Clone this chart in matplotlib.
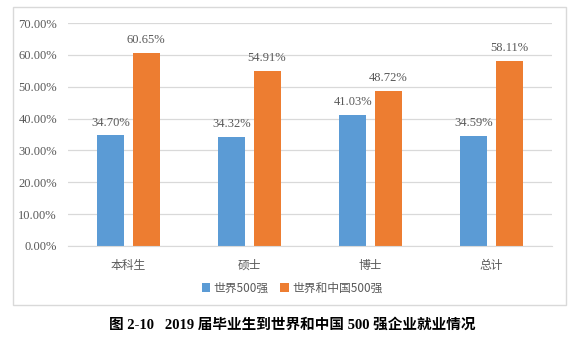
import matplotlib.pyplot as plt
import numpy as np
from matplotlib.patches import Rectangle
from matplotlib.ticker import FuncFormatter

categories = ["本科生", "硕士", "博士", "总计"]
world500 = [34.70, 34.32, 41.03, 34.59]
world_china500 = [60.65, 54.91, 48.72, 58.11]
series_names = ["世界500强", "世界和中国500强"]
caption = "图 2-10   2019 届毕业生到世界和中国 500 强企业就业情况"

plt.rcParams['font.family'] = ['Liberation Serif', 'Noto Sans CJK SC', 'DejaVu Sans']
W, H = 580, 352
fig = plt.figure(figsize=(5.8, 3.52), dpi=100)
# axes: x 68..552, y 23..246 (pixels)
ax = fig.add_axes([68 / W, 1 - 246 / H, (552 - 68) / W, (246 - 23) / H])

gray = "#595959"
blue = "#5B9BD5"
orange = "#ED7D31"
x = np.arange(len(categories))
bw = 0.223
off = 0.145
b1 = ax.bar(x - off, world500, bw, color=blue, label=series_names[0], zorder=2)
b2 = ax.bar(x + off, world_china500, bw, color=orange, label=series_names[1], zorder=2)

for bars, vals in ((b1, world500), (b2, world_china500)):
    for r, v in zip(bars, vals):
        ax.annotate(f"{v:.2f}%", (r.get_x() + r.get_width() / 2, v),
                    xytext=(0, 5), textcoords="offset points",
                    ha="center", va="bottom", fontsize=9, color=gray)

ax.set_xlim(-0.5, 3.5)
ax.set_ylim(0, 70)
ax.set_yticks(np.arange(0, 71, 10))
ax.yaxis.set_major_formatter(FuncFormatter(lambda v, p: f"{v:.2f}%"))
ax.set_xticks(x)
ax.set_xticklabels(categories, family=['Noto Sans CJK SC'], fontsize=8.5, color=gray)
ax.tick_params(axis='y', length=0, labelsize=9, labelcolor=gray, pad=8)
ax.tick_params(axis='x', length=0, pad=9)
ax.grid(axis='y', color="#D9D9D9", linewidth=0.9, zorder=0)
for s in ("top", "right", "left"):
    ax.spines[s].set_visible(False)
ax.spines["bottom"].set_color("#D9D9D9")

leg = fig.legend(handles=[b1, b2], labels=series_names, loc="center",
                 bbox_to_anchor=(292 / W, 1 - 288 / H),
                 ncol=2, frameon=False, handlelength=0.7, handleheight=0.7,
                 handletextpad=0.3, columnspacing=1.0,
                 prop={'family': ['Noto Sans CJK SC'], 'size': 8.5})
for t in leg.get_texts():
    t.set_color(gray)

fig.patches.append(Rectangle((13 / W, 1 - 305 / H), (566 - 13) / W, (305 - 7) / H,
                             transform=fig.transFigure, fill=False,
                             edgecolor="#D9D9D9", linewidth=1))
fig.text(292 / W, 1 - 325 / H, caption, ha="center", va="center", fontsize=10.5,
         fontweight="bold", family=['Liberation Serif', 'Noto Sans CJK SC'])

fig.savefig("out.png", dpi=100)
